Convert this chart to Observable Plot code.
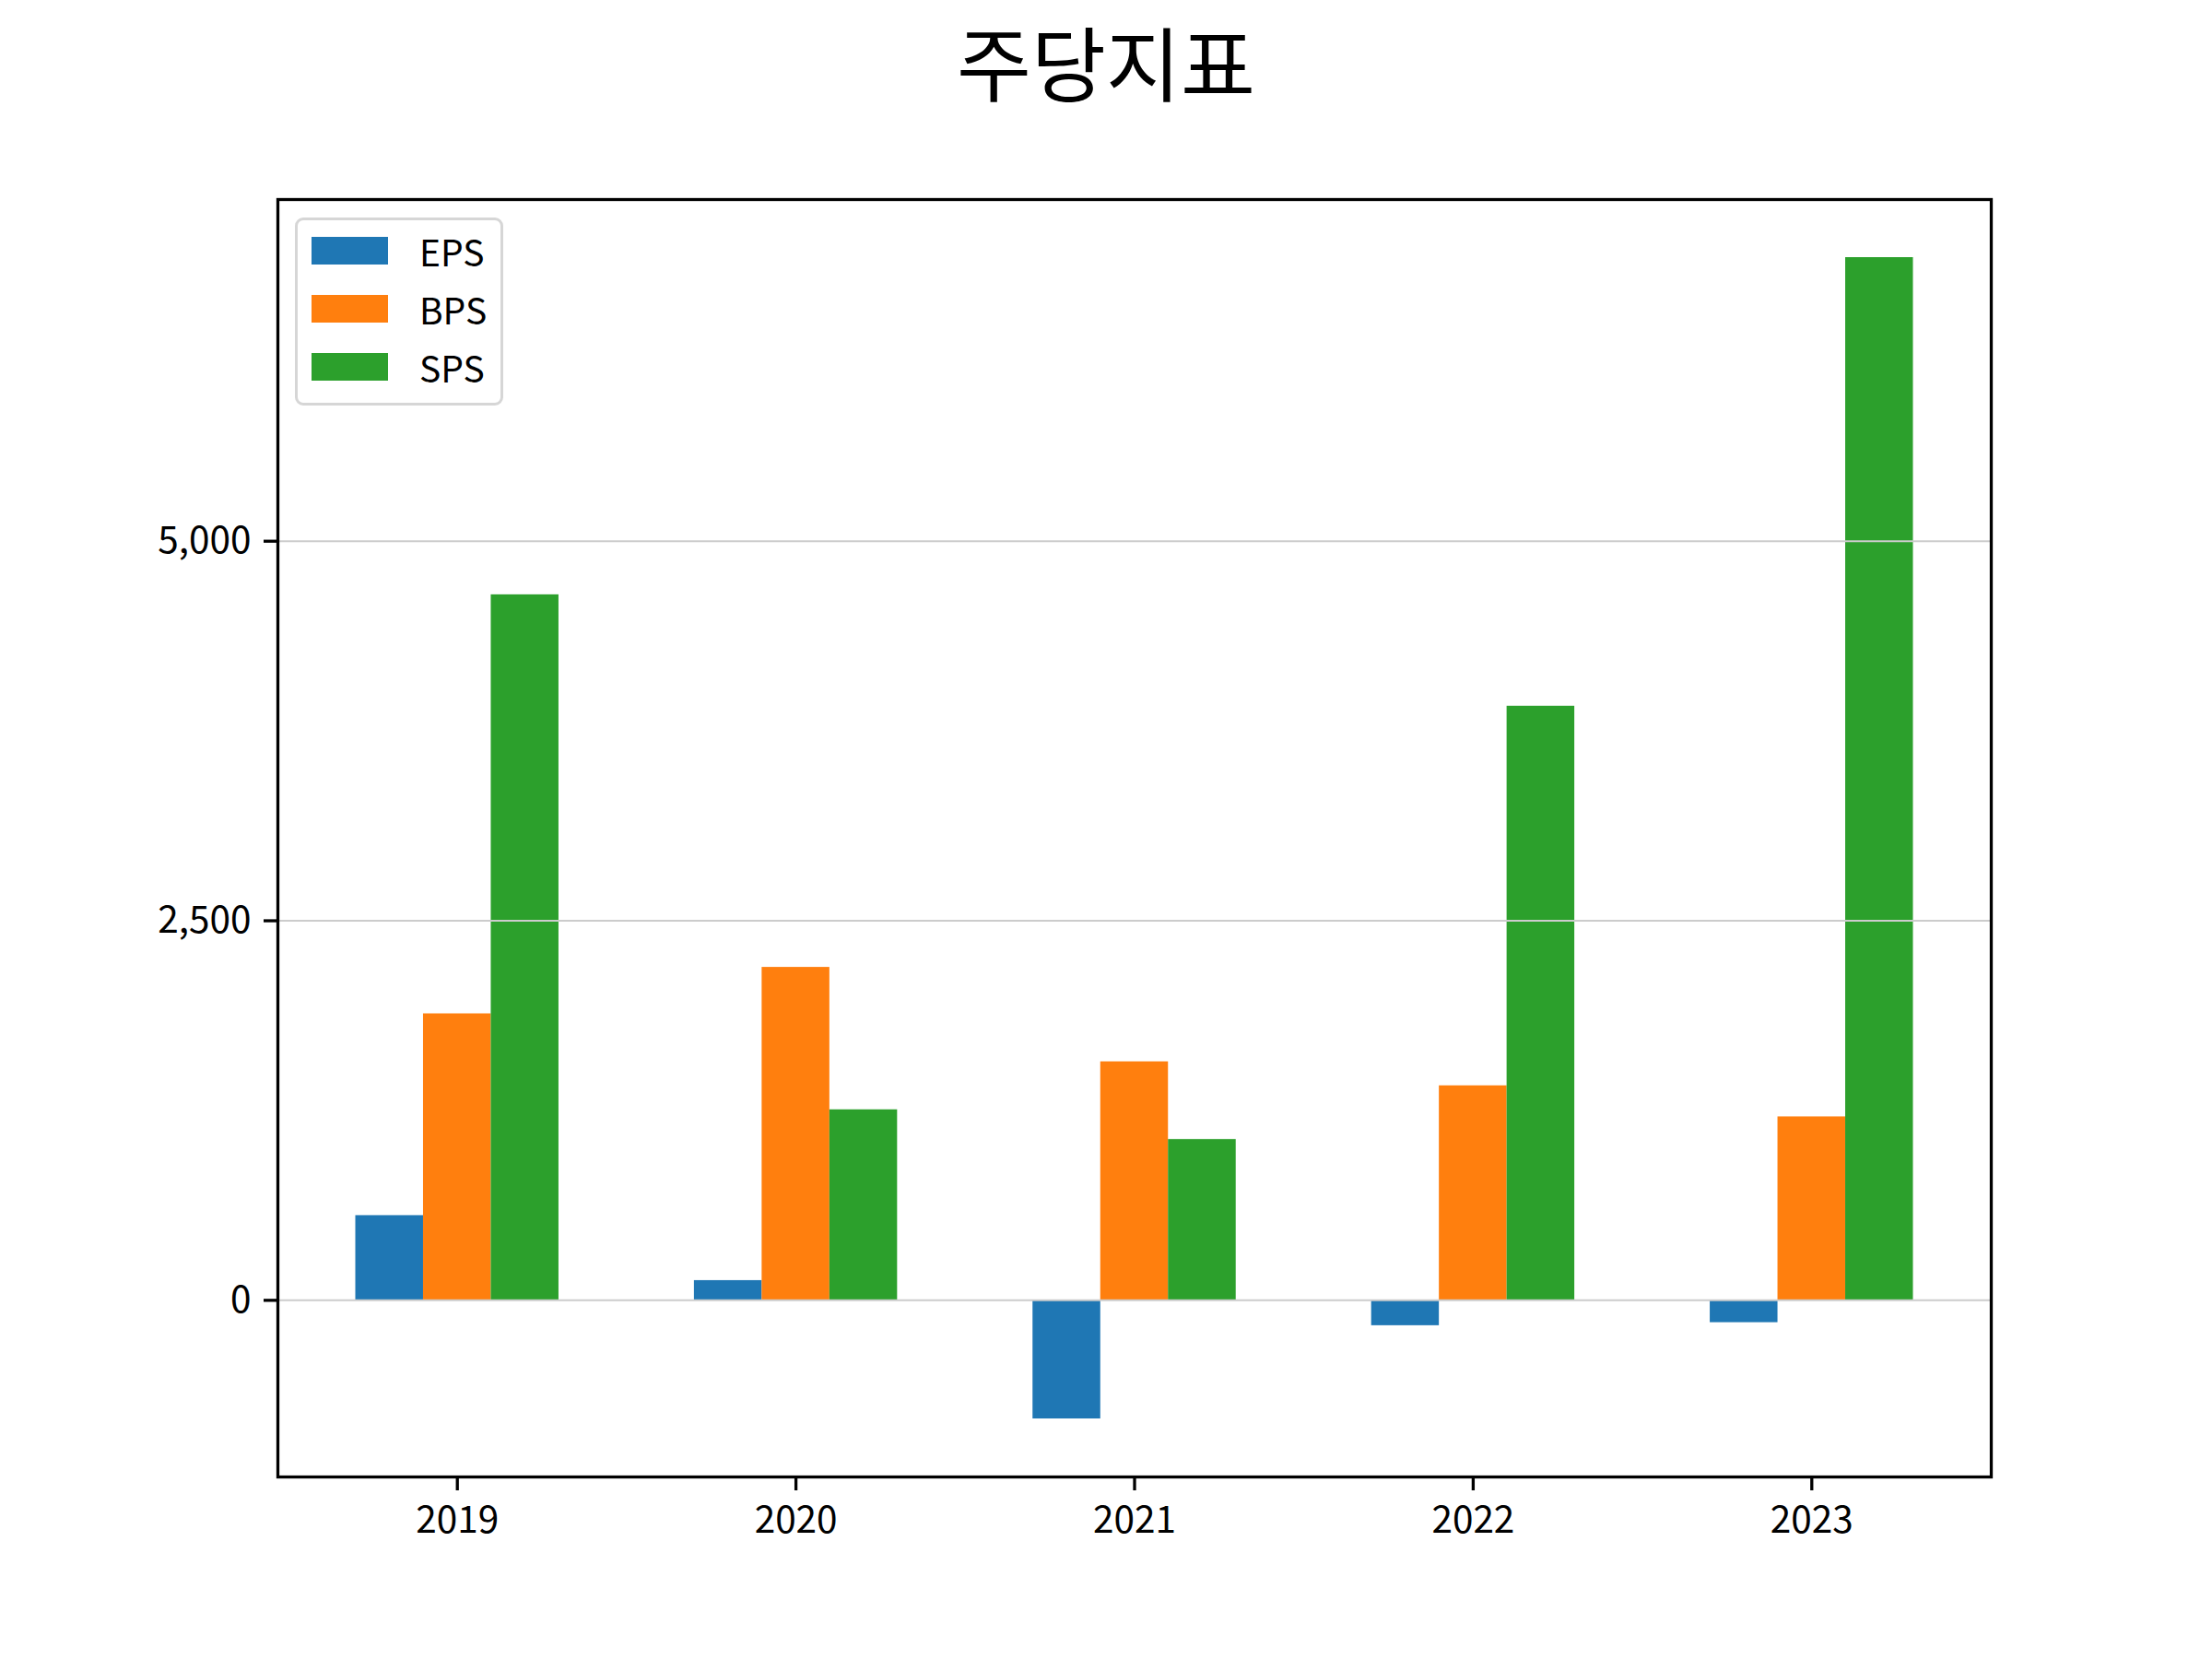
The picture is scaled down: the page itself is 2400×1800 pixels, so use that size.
<!DOCTYPE html>
<html>
<head>
<meta charset="utf-8">
<script src="https://cdn.jsdelivr.net/npm/d3@7"></script>
<script src="https://cdn.jsdelivr.net/npm/@observablehq/plot@0.6"></script>
<style>
  body { margin: 0; background: white; }
  #fig { position: relative; width: 2400px; height: 1800px; background: white; font-family: 'Noto Sans CJK KR', 'Noto Sans', sans-serif; }
  #title { height: 150px; line-height: 130px; text-align: center; font-size: 88px; color: black; font-weight: 400; }
  #legend { position: absolute; left: 320px; top: 236px; width: 205px; height: 197px; border: 3px solid #d6d6d6; border-radius: 9px; background: rgba(255,255,255,0.8); padding: 1px 0 0 15px; box-sizing: content-box; }
  .row { display: flex; align-items: center; height: 63px; }
  .sw { width: 83px; height: 30px; }
  .lbl { margin-left: 34px; font-size: 39px; color: black; font-weight: 400; }
</style>
</head>
<body>
<div id="fig">
  <div id="title">주당지표</div>
  <div id="chart"></div>
  <div id="legend"></div>
</div>
<script>
const years = ["2019", "2020", "2021", "2022", "2023"];
const seriesNames = ["EPS", "BPS", "SPS"];
const eps = [558, 130, -781, -167, -147];
const bps = [1887, 2193, 1571, 1413, 1208];
const sps = [4647, 1255, 1059, 3913, 6868];
const colors = ["#1f77b4", "#ff7f0e", "#2ca02c"];
const yTicks = [0, 2500, 5000];

const seriesValues = [eps, bps, sps];
const barWidth = 0.2;
const rows = [];
years.forEach((yr, i) => {
  seriesNames.forEach((s, j) => {
    const center = i + (j - 1) * barWidth;
    rows.push({year: yr, series: s, value: seriesValues[j][i], x1: center - barWidth / 2, x2: center + barWidth / 2});
  });
});

// matplotlib-like autoscale: 5% margins
const xmin = d3.min(rows, d => d.x1), xmax = d3.max(rows, d => d.x2);
const xm = (xmax - xmin) * 0.05;
const ymin = Math.min(0, d3.min(rows, d => d.value)), ymax = Math.max(0, d3.max(rows, d => d.value));
const ym = (ymax - ymin) * 0.05;

const chart = Plot.plot({
  width: 2400,
  height: 1650,
  marginLeft: 301,
  marginRight: 240,
  marginTop: 66,
  marginBottom: 198,
  style: { fontFamily: "'Noto Sans CJK KR', 'Noto Sans', sans-serif", fontSize: "40.5px", fontWeight: 400, background: "white", color: "black" },
  x: { domain: [xmin - xm, xmax + xm], ticks: years.map((_, i) => i), tickFormat: i => years[i], label: null, tickSize: 15, tickPadding: 17 },
  y: { domain: [ymin - ym, ymax + ym], ticks: yTicks, tickFormat: d3.format(","), label: null, tickSize: 15, tickPadding: 14 },
  color: { domain: seriesNames, range: colors },
  marks: [
    Plot.rect(rows, { x1: "x1", x2: "x2", y1: 0, y2: "value", fill: "series" }),
    Plot.ruleY(yTicks, { stroke: "#cccccc", strokeWidth: 2 }),
    Plot.axisX({ ticks: years.map((_, i) => i), tickFormat: i => years[i], tickSize: 15, tickPadding: 17, strokeWidth: 3.3, label: null }),
    Plot.axisY({ ticks: yTicks, tickFormat: d3.format(","), tickSize: 15, tickPadding: 14, strokeWidth: 3.3, label: null }),
    Plot.frame({ stroke: "black", strokeWidth: 3.3 })
  ]
});
document.getElementById("chart").appendChild(chart);

const legend = document.getElementById("legend");
seriesNames.forEach((s, j) => {
  const row = document.createElement("div");
  row.className = "row";
  const sw = document.createElement("div");
  sw.className = "sw";
  sw.style.background = colors[j];
  const lbl = document.createElement("span");
  lbl.className = "lbl";
  lbl.textContent = s;
  row.appendChild(sw);
  row.appendChild(lbl);
  legend.appendChild(row);
});
</script>
</body>
</html>
